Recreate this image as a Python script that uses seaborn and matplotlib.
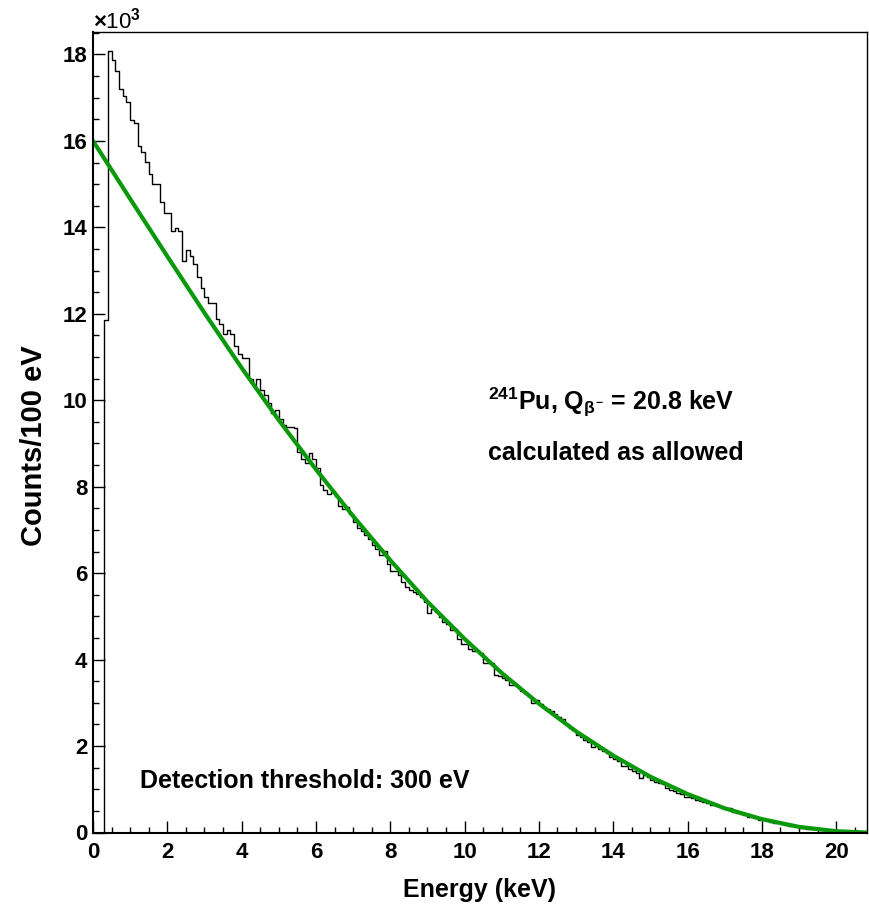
import numpy as np
import pandas as pd
import seaborn as sns
import matplotlib.pyplot as plt
from matplotlib.ticker import MultipleLocator

# Measured spectrum, 100 eV bins starting at 0 keV (counts in units of 10^3)
bin_width = 0.1
counts_k = [
    0, 0, 0, 11.85, 18.09, 17.88, 17.61, 17.20, 17.05, 16.90,          # 0 keV
    16.49, 16.42, 15.89, 15.75, 15.52, 15.24, 15.01, 15.00, 14.59, 14.34,  # 1
    14.34, 13.91, 13.99, 13.91, 13.22, 13.47, 13.33, 13.15, 12.85, 12.60,  # 2
    12.39, 12.24, 12.24, 11.88, 11.77, 11.53, 11.62, 11.53, 11.26, 11.08,  # 3
    10.97, 10.97, 10.49, 10.36, 10.49, 10.24, 10.12, 9.93, 9.71, 9.77,     # 4
    9.57, 9.43, 9.37, 9.37, 9.35, 8.80, 8.64, 8.54, 8.78, 8.64,            # 5
    8.43, 8.03, 7.93, 7.83, 7.87, 7.79, 7.56, 7.49, 7.53, 7.37,            # 6
    7.18, 7.05, 6.98, 6.88, 6.80, 6.66, 6.55, 6.43, 6.51, 6.22,            # 7
    6.06, 6.05, 5.95, 5.79, 5.69, 5.62, 5.56, 5.51, 5.45, 5.33,            # 8
    5.08, 5.18, 5.10, 4.98, 4.87, 4.83, 4.68, 4.70, 4.47, 4.37,            # 9
    4.36, 4.25, 4.21, 4.20, 4.15, 3.92, 3.92, 3.91, 3.64, 3.63,            # 10
    3.58, 3.52, 3.42, 3.41, 3.36, 3.28, 3.22, 3.15, 3.00, 3.06,            # 11
    2.98, 2.90, 2.86, 2.80, 2.73, 2.68, 2.62, 2.52, 2.41, 2.38,            # 12
    2.25, 2.20, 2.15, 2.10, 1.98, 1.99, 1.94, 1.89, 1.84, 1.74,            # 13
    1.69, 1.66, 1.54, 1.54, 1.46, 1.43, 1.37, 1.27, 1.33, 1.29,            # 14
    1.21, 1.17, 1.15, 1.12, 1.02, 0.98, 0.97, 0.92, 0.89, 0.83,            # 15
    0.81, 0.79, 0.75, 0.74, 0.70, 0.68, 0.64, 0.63, 0.61, 0.56,            # 16
    0.57, 0.57, 0.48, 0.46, 0.43, 0.40, 0.37, 0.35, 0.33, 0.30,            # 17
    0.29, 0.29, 0.24, 0.23, 0.21, 0.19, 0.17, 0.16, 0.14, 0.14,            # 18
    0.11, 0.10, 0.09, 0.08, 0.08, 0.07, 0.06, 0.05, 0.04, 0.04,            # 19
    0.03, 0.02, 0.02, 0.01, 0.01, 0.005, 0.003, 0.001,                     # 20
]

# Calculated allowed spectrum (green curve), read at 1 keV steps
calc_energy = [0, 1, 2, 3, 4, 5, 6, 7, 8, 9, 10, 11, 12, 13, 14, 15, 16, 17, 18, 19, 20, 20.8]
calc_counts_k = [16.0, 14.66, 13.33, 12.02, 10.75, 9.54, 8.40, 7.32, 6.30, 5.34, 4.48,
                 3.69, 2.98, 2.34, 1.78, 1.29, 0.89, 0.56, 0.31, 0.13, 0.03, 0.0]

n_bins = len(counts_k)
edges = [round(i * bin_width, 3) for i in range(n_bins + 1)]
spectrum = pd.DataFrame({'energy': np.array(edges[:-1]) + bin_width / 2, 'counts': counts_k})
calc = pd.DataFrame({'energy': calc_energy, 'counts': calc_counts_k})

sns.set_style('ticks')
plt.rcParams['font.family'] = ['Liberation Sans', 'DejaVu Sans']
plt.rcParams['font.weight'] = 'bold'
plt.rcParams['text.color'] = 'black'
plt.rcParams['axes.labelcolor'] = 'black'
plt.rcParams['xtick.color'] = 'black'
plt.rcParams['ytick.color'] = 'black'
plt.rcParams['mathtext.fontset'] = 'custom'
plt.rcParams['mathtext.rm'] = 'Liberation Sans:bold'
plt.rcParams['mathtext.it'] = 'Liberation Sans:bold'
plt.rcParams['mathtext.bf'] = 'Liberation Sans:bold'

W, H = 869, 906
fig = plt.figure(figsize=(W / 100, H / 100), dpi=100)
ax = fig.add_axes([93 / W, 1 - 832.5 / H, (867 - 93) / W, (832.5 - 32) / H])

sns.histplot(data=spectrum, x='energy', weights='counts', bins=edges,
             element='step', fill=False, color='black', linewidth=1.0, ax=ax)
sns.lineplot(data=calc, x='energy', y='counts', color='#0a990a', linewidth=3.0, ax=ax)

ax.set_xlim(0, 20.83)
ax.set_ylim(0, 18.52)
ax.xaxis.set_major_locator(MultipleLocator(2))
ax.xaxis.set_minor_locator(MultipleLocator(0.5))
ax.yaxis.set_major_locator(MultipleLocator(2))
ax.yaxis.set_minor_locator(MultipleLocator(0.5))
ax.tick_params(which='both', direction='in', top=False, right=False, width=1.0,
               labelsize=16, colors='black')
ax.tick_params(which='major', length=8.5)
ax.tick_params(which='minor', length=4.3)
ax.tick_params(axis='x', pad=7)
ax.tick_params(axis='y', pad=4)
for lab in ax.get_xticklabels() + ax.get_yticklabels():
    lab.set_fontweight('bold')

for side in ['left', 'bottom']:
    ax.spines[side].set_linewidth(1.5)
for side in ['top', 'right']:
    ax.spines[side].set_linewidth(1.0)
for s in ax.spines.values():
    s.set_color('black')

ax.set_xlabel('')
ax.set_ylabel('')
fig.text(480 / W, 1 - 897 / H, 'Energy (keV)', ha='center', va='baseline',
         fontsize=18, fontweight='bold')
fig.text(34 / W, 1 - 446 / H, 'Counts/100 eV', ha='center', va='center',
         rotation=90, fontsize=21, fontweight='bold')
fig.text(93 / W, 1 - 29 / H, r'$\times$10$^{3}$', ha='left', va='baseline',
         fontsize=16, fontweight='normal')

fig.text(488 / W, 1 - 410 / H, r'$^{241}$Pu, Q$_{\beta^{-}}$ = 20.8 keV',
         ha='left', va='baseline', fontsize=18, fontweight='bold')
fig.text(488 / W, 1 - 460 / H, 'calculated as allowed',
         ha='left', va='baseline', fontsize=18, fontweight='bold')
fig.text(140 / W, 1 - 788 / H, 'Detection threshold: 300 eV',
         ha='left', va='baseline', fontsize=18, fontweight='bold')

fig.savefig('out.png', dpi=100, facecolor='white')
